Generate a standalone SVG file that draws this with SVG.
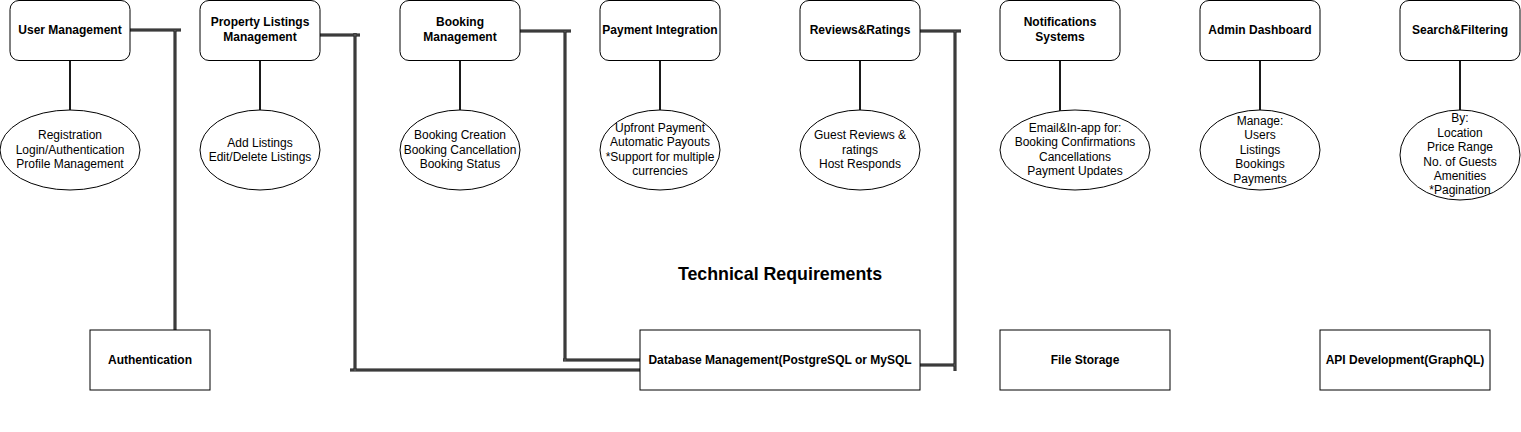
<svg xmlns="http://www.w3.org/2000/svg" width="1521" height="432" viewBox="0 0 1521 432">
<style>
.box{fill:#fff;stroke:#000;stroke-width:1}
.ell{fill:#fff;stroke:#000;stroke-width:1}
.t{font-family:"Liberation Sans",Arial,Helvetica,sans-serif;font-size:12px;fill:#000;text-anchor:middle}
.b{font-weight:bold}
.stem{stroke:#1a1a1a;stroke-width:2;fill:none}
.lo{stroke:#111;stroke-width:3;fill:none}
.li{stroke:#666;stroke-width:1;fill:none}
</style>
<rect width="1521" height="432" fill="#fff"/>
<g id="connectors">
<g id="stems">
<path class="stem" d="M70 60V110M260 60V110M460 60V110M660 60V110M860 60V110M1060 60V111M1260 60V110M1460 60V110"/>
</g>
<g id="links">
<path class="lo" d="M130 30H181M175 30V330"/>
<path class="li" d="M130 30H181M175 30V330"/>
<path class="lo" d="M320 35H360M355 33V371M350 370H640"/>
<path class="li" d="M320 35H360M355 33V371M350 370H640"/>
<path class="lo" d="M520 31H571M565 31V361M563 360H640"/>
<path class="li" d="M520 31H571M565 31V361M563 360H640"/>
<path class="lo" d="M920 31H961M955 31V371M920 365H955"/>
<path class="li" d="M920 31H961M955 31V371M920 365H955"/>
</g>
</g>
<g id="n-user"><rect class="box" x="10" y="0.5" width="120" height="60" rx="9"/><text class="t b" x="70" y="34">User Management</text></g>
<g id="n-property"><rect class="box" x="200" y="0.5" width="120" height="60" rx="9"/><text class="t b" x="260" y="26">Property Listings</text><text class="t b" x="260" y="41">Management</text></g>
<g id="n-booking"><rect class="box" x="400" y="0.5" width="120" height="60" rx="9"/><text class="t b" x="460" y="26">Booking</text><text class="t b" x="460" y="41">Management</text></g>
<g id="n-payment"><rect class="box" x="600" y="0.5" width="120" height="60" rx="9"/><text class="t b" x="660" y="34">Payment Integration</text></g>
<g id="n-reviews"><rect class="box" x="800" y="0.5" width="120" height="60" rx="9"/><text class="t b" x="860" y="34">Reviews&amp;Ratings</text></g>
<g id="n-notif"><rect class="box" x="1000" y="0.5" width="120" height="60" rx="9"/><text class="t b" x="1060" y="26">Notifications</text><text class="t b" x="1060" y="41">Systems</text></g>
<g id="n-admin"><rect class="box" x="1200" y="0.5" width="120" height="60" rx="9"/><text class="t b" x="1260" y="34">Admin Dashboard</text></g>
<g id="n-search"><rect class="box" x="1400" y="0.5" width="120" height="60" rx="9"/><text class="t b" x="1460" y="34">Search&amp;Filtering</text></g>

<g id="e-user"><ellipse class="ell" cx="70" cy="150" rx="70" ry="40"/><text class="t" x="70" y="139">Registration</text><text class="t" x="70" y="154">Login/Authentication</text><text class="t" x="70" y="168">Profile Management</text></g>
<g id="e-property"><ellipse class="ell" cx="260" cy="150" rx="60" ry="40"/><text class="t" x="260" y="147">Add Listings</text><text class="t" x="260" y="161">Edit/Delete Listings</text></g>
<g id="e-booking"><ellipse class="ell" cx="460" cy="150" rx="60" ry="40"/><text class="t" x="460" y="139">Booking Creation</text><text class="t" x="460" y="154">Booking Cancellation</text><text class="t" x="460" y="168">Booking Status</text></g>
<g id="e-payment"><ellipse class="ell" cx="660" cy="150" rx="60" ry="40"/><text class="t" x="660" y="132">Upfront Payment</text><text class="t" x="660" y="146">Automatic Payouts</text><text class="t" x="660" y="161">*Support for multiple</text><text class="t" x="660" y="175">currencies</text></g>
<g id="e-reviews"><ellipse class="ell" cx="860" cy="150" rx="60" ry="40"/><text class="t" x="860" y="139">Guest Reviews &amp;</text><text class="t" x="860" y="154">ratings</text><text class="t" x="860" y="168">Host Responds</text></g>
<g id="e-notif"><ellipse class="ell" cx="1075" cy="150" rx="75" ry="40"/><text class="t" x="1075" y="132">Email&amp;In-app for:</text><text class="t" x="1075" y="146">Booking Confirmations</text><text class="t" x="1075" y="161">Cancellations</text><text class="t" x="1075" y="175">Payment Updates</text></g>
<g id="e-admin"><ellipse class="ell" cx="1260" cy="150" rx="60" ry="40"/><text class="t" x="1260" y="125">Manage:</text><text class="t" x="1260" y="139">Users</text><text class="t" x="1260" y="154">Listings</text><text class="t" x="1260" y="168">Bookings</text><text class="t" x="1260" y="183">Payments</text></g>
<g id="e-search"><ellipse class="ell" cx="1460" cy="155" rx="60" ry="45"/><text class="t" x="1460" y="122">By:</text><text class="t" x="1460" y="137">Location</text><text class="t" x="1460" y="151">Price Range</text><text class="t" x="1460" y="166">No. of Guests</text><text class="t" x="1460" y="180">Amenities</text><text class="t" x="1460" y="194">*Pagination</text></g>

<g id="title"><text class="t b" x="780" y="280" style="font-size:17.8px">Technical Requirements</text></g>

<g id="n-auth"><rect class="box" x="90" y="330" width="120" height="60"/><text class="t b" x="150" y="364">Authentication</text></g>
<g id="n-db"><rect class="box" x="640" y="330" width="280" height="60"/><text class="t b" x="780" y="364">Database Management(PostgreSQL or MySQL</text></g>
<g id="n-file"><rect class="box" x="1000" y="330" width="170" height="60"/><text class="t b" x="1085" y="364">File Storage</text></g>
<g id="n-api"><rect class="box" x="1320" y="330" width="170" height="60"/><text class="t b" x="1405" y="364">API Development(GraphQL)</text></g>
</svg>
